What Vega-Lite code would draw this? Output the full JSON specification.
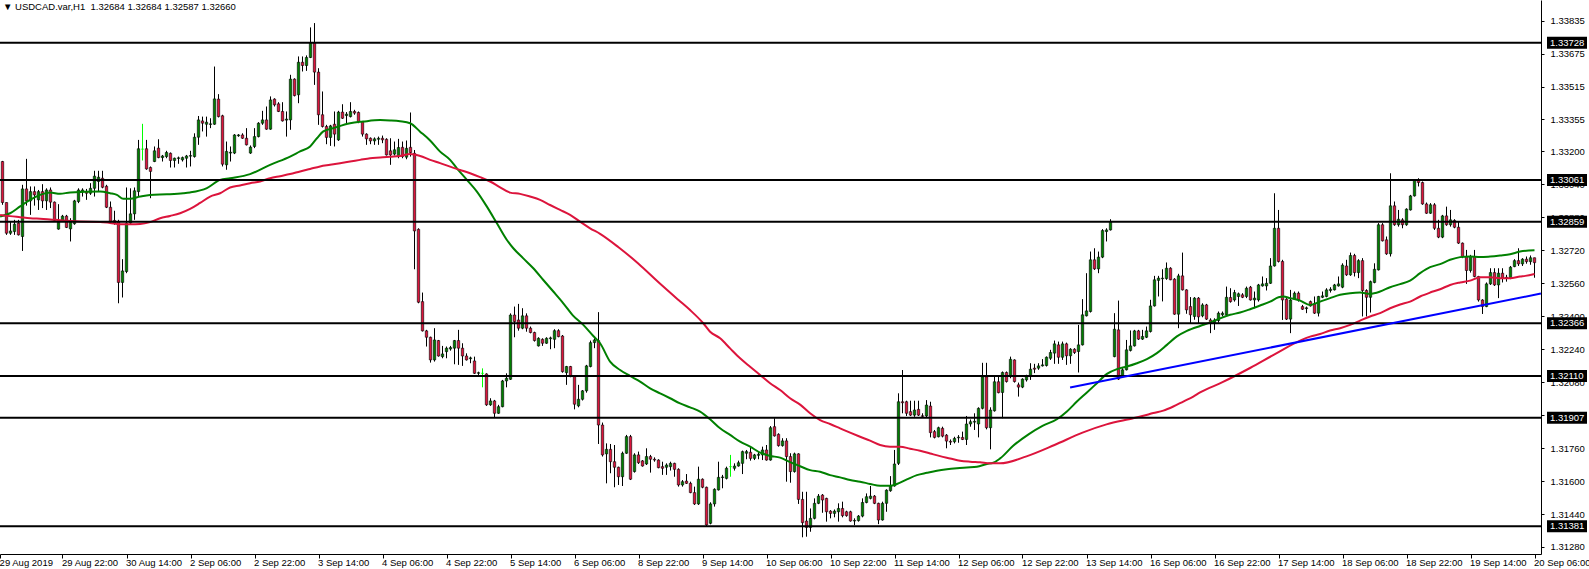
{
"$schema":"https://vega.github.io/schema/vega-lite/v6.json",
"width":1541,"height":554,"autosize":"none","padding":{"left":0,"top":0,"right":48,"bottom":15},"background":"white",
"config":{"view":{"stroke":null},"font":"Liberation Sans","scale":{"continuousPadding":0},"axis":{"labelFont":"Liberation Sans","labelFontSize":9.5,"labelColor":"#000000","tickColor":"#000000","domainColor":"#000000","grid":false,"labelOverlap":false,"labelFlush":false,"labelBound":false}},
"title":{"text":"▼ USDCAD.var,H1\u00a0\u00a01.32684 1.32684 1.32587 1.32660","anchor":"start","frame":"group","font":"Liberation Sans","fontSize":9.5,"fontWeight":"normal","color":"#000000","offset":0,"dy":11,"dx":3},
"datasets":{
"bars":[
{"i":0,"o":1.33151,"h":1.33154,"l":1.32941,"c":1.32952},
{"i":1,"o":1.32952,"h":1.32952,"l":1.32795,"c":1.32803},
{"i":2,"o":1.32803,"h":1.3286,"l":1.32795,"c":1.32814},
{"i":3,"o":1.32811,"h":1.32868,"l":1.32795,"c":1.32847},
{"i":4,"o":1.32852,"h":1.32868,"l":1.32792,"c":1.32795},
{"i":5,"o":1.32787,"h":1.33038,"l":1.32717,"c":1.33018},
{"i":6,"o":1.33018,"h":1.33164,"l":1.32937,"c":1.3296},
{"i":7,"o":1.3296,"h":1.3303,"l":1.32892,"c":1.33005},
{"i":8,"o":1.33005,"h":1.3303,"l":1.32937,"c":1.32989},
{"i":9,"o":1.32965,"h":1.33013,"l":1.32916,"c":1.33005},
{"i":10,"o":1.33005,"h":1.33041,"l":1.32925,"c":1.3296},
{"i":11,"o":1.3296,"h":1.33021,"l":1.32916,"c":1.33013},
{"i":12,"o":1.33013,"h":1.33025,"l":1.32925,"c":1.32954},
{"i":13,"o":1.32954,"h":1.32957,"l":1.32862,"c":1.32865},
{"i":14,"o":1.32823,"h":1.32944,"l":1.3282,"c":1.32857},
{"i":15,"o":1.32865,"h":1.32892,"l":1.3286,"c":1.32886},
{"i":16,"o":1.32886,"h":1.32892,"l":1.32828,"c":1.32831},
{"i":17,"o":1.32824,"h":1.32876,"l":1.32763,"c":1.32865},
{"i":18,"o":1.32849,"h":1.32965,"l":1.32844,"c":1.3296},
{"i":19,"o":1.32957,"h":1.33021,"l":1.32949,"c":1.33013},
{"i":20,"o":1.33005,"h":1.33021,"l":1.32981,"c":1.33013},
{"i":21,"o":1.33005,"h":1.33018,"l":1.32965,"c":1.32997},
{"i":22,"o":1.32997,"h":1.33046,"l":1.32989,"c":1.33021},
{"i":23,"o":1.33021,"h":1.33106,"l":1.32981,"c":1.3308},
{"i":24,"o":1.33054,"h":1.33106,"l":1.33005,"c":1.33075},
{"i":25,"o":1.3307,"h":1.33106,"l":1.33021,"c":1.33026},
{"i":26,"o":1.33031,"h":1.33038,"l":1.32925,"c":1.32929},
{"i":27,"o":1.32929,"h":1.32957,"l":1.32852,"c":1.3286},
{"i":28,"o":1.32865,"h":1.32912,"l":1.32844,"c":1.32852},
{"i":29,"o":1.3286,"h":1.32868,"l":1.32463,"c":1.32564},
{"i":30,"o":1.32564,"h":1.32677,"l":1.32491,"c":1.3262},
{"i":31,"o":1.32617,"h":1.33025,"l":1.32609,"c":1.32852},
{"i":32,"o":1.32852,"h":1.33021,"l":1.32847,"c":1.32897},
{"i":33,"o":1.32897,"h":1.33025,"l":1.32868,"c":1.33009},
{"i":34,"o":1.33005,"h":1.33256,"l":1.32981,"c":1.33213},
{"i":35,"o":1.33211,"h":1.33334,"l":1.33156,"c":1.33211},
{"i":36,"o":1.33213,"h":1.33256,"l":1.33111,"c":1.33115},
{"i":37,"o":1.33122,"h":1.33127,"l":1.32973,"c":1.33103},
{"i":38,"o":1.33151,"h":1.33224,"l":1.33148,"c":1.33203},
{"i":39,"o":1.33216,"h":1.33259,"l":1.33167,"c":1.3317},
{"i":40,"o":1.3317,"h":1.33183,"l":1.33151,"c":1.33178},
{"i":41,"o":1.33175,"h":1.33203,"l":1.33167,"c":1.33195},
{"i":42,"o":1.33191,"h":1.33195,"l":1.33122,"c":1.33156},
{"i":43,"o":1.33156,"h":1.3317,"l":1.33122,"c":1.33167},
{"i":44,"o":1.33166,"h":1.33175,"l":1.3314,"c":1.33169},
{"i":45,"o":1.33159,"h":1.33175,"l":1.33151,"c":1.3317},
{"i":46,"o":1.33167,"h":1.33183,"l":1.33122,"c":1.33178},
{"i":47,"o":1.33177,"h":1.33203,"l":1.33127,"c":1.3318},
{"i":48,"o":1.33175,"h":1.33288,"l":1.3317,"c":1.33269},
{"i":49,"o":1.33269,"h":1.33372,"l":1.33232,"c":1.33353},
{"i":50,"o":1.33348,"h":1.33369,"l":1.33297,"c":1.33337},
{"i":51,"o":1.33332,"h":1.33369,"l":1.33272,"c":1.33342},
{"i":52,"o":1.33331,"h":1.33361,"l":1.33313,"c":1.33334},
{"i":53,"o":1.33332,"h":1.33612,"l":1.33329,"c":1.33455},
{"i":54,"o":1.33454,"h":1.33478,"l":1.33365,"c":1.33369},
{"i":55,"o":1.33373,"h":1.33378,"l":1.33127,"c":1.33138},
{"i":56,"o":1.33135,"h":1.33248,"l":1.33111,"c":1.332},
{"i":57,"o":1.33192,"h":1.33224,"l":1.33151,"c":1.33196},
{"i":58,"o":1.33192,"h":1.33284,"l":1.33187,"c":1.3328},
{"i":59,"o":1.33276,"h":1.33284,"l":1.33271,"c":1.3328},
{"i":60,"o":1.3328,"h":1.33288,"l":1.33261,"c":1.33264},
{"i":61,"o":1.33264,"h":1.33313,"l":1.33229,"c":1.33232},
{"i":62,"o":1.33192,"h":1.33229,"l":1.33188,"c":1.33221},
{"i":63,"o":1.33224,"h":1.33313,"l":1.33216,"c":1.33272},
{"i":64,"o":1.33272,"h":1.33342,"l":1.33268,"c":1.33337},
{"i":65,"o":1.33337,"h":1.33397,"l":1.33329,"c":1.33353},
{"i":66,"o":1.33353,"h":1.33418,"l":1.33305,"c":1.33308},
{"i":67,"o":1.33308,"h":1.33467,"l":1.33305,"c":1.3345},
{"i":68,"o":1.33454,"h":1.33458,"l":1.33418,"c":1.33426},
{"i":69,"o":1.33431,"h":1.33439,"l":1.33391,"c":1.33394},
{"i":70,"o":1.33394,"h":1.33439,"l":1.33345,"c":1.33348},
{"i":71,"o":1.33352,"h":1.33394,"l":1.33272,"c":1.33357},
{"i":72,"o":1.33353,"h":1.33572,"l":1.33305,"c":1.33551},
{"i":73,"o":1.33551,"h":1.33555,"l":1.33467,"c":1.33471},
{"i":74,"o":1.33475,"h":1.33661,"l":1.33434,"c":1.33633},
{"i":75,"o":1.33633,"h":1.33661,"l":1.33588,"c":1.33617},
{"i":76,"o":1.33617,"h":1.33666,"l":1.33591,"c":1.33656},
{"i":77,"o":1.33656,"h":1.33802,"l":1.33653,"c":1.33727},
{"i":78,"o":1.33727,"h":1.33823,"l":1.33523,"c":1.33585},
{"i":79,"o":1.33585,"h":1.33604,"l":1.33329,"c":1.33378},
{"i":80,"o":1.33378,"h":1.33491,"l":1.33316,"c":1.33321},
{"i":81,"o":1.33321,"h":1.33329,"l":1.33235,"c":1.33268},
{"i":82,"o":1.33268,"h":1.33329,"l":1.33227,"c":1.33324},
{"i":83,"o":1.33332,"h":1.33394,"l":1.33224,"c":1.33284},
{"i":84,"o":1.33256,"h":1.33397,"l":1.33251,"c":1.33391},
{"i":85,"o":1.33391,"h":1.33429,"l":1.33358,"c":1.33361},
{"i":86,"o":1.33374,"h":1.33391,"l":1.33329,"c":1.33381},
{"i":87,"o":1.33369,"h":1.33439,"l":1.33365,"c":1.33394},
{"i":88,"o":1.33394,"h":1.33402,"l":1.33378,"c":1.33386},
{"i":89,"o":1.33389,"h":1.33394,"l":1.33337,"c":1.33345},
{"i":90,"o":1.33345,"h":1.33348,"l":1.33272,"c":1.33284},
{"i":91,"o":1.33284,"h":1.33288,"l":1.33232,"c":1.33261},
{"i":92,"o":1.33264,"h":1.33268,"l":1.33235,"c":1.33251},
{"i":93,"o":1.33251,"h":1.33268,"l":1.33232,"c":1.33261},
{"i":94,"o":1.33259,"h":1.33272,"l":1.33232,"c":1.33264},
{"i":95,"o":1.33264,"h":1.33277,"l":1.3324,"c":1.33256},
{"i":96,"o":1.33259,"h":1.33264,"l":1.3318,"c":1.33183},
{"i":97,"o":1.33203,"h":1.33264,"l":1.33135,"c":1.33183},
{"i":98,"o":1.33187,"h":1.33248,"l":1.3318,"c":1.33208},
{"i":99,"o":1.33175,"h":1.33261,"l":1.33167,"c":1.33219},
{"i":100,"o":1.3322,"h":1.33248,"l":1.33167,"c":1.33175},
{"i":101,"o":1.33172,"h":1.33253,"l":1.33162,"c":1.33215},
{"i":102,"o":1.3322,"h":1.33389,"l":1.33175,"c":1.33194},
{"i":103,"o":1.33191,"h":1.33207,"l":1.32628,"c":1.32814},
{"i":104,"o":1.32822,"h":1.32827,"l":1.32463,"c":1.32468},
{"i":105,"o":1.32471,"h":1.32515,"l":1.32326,"c":1.32329},
{"i":106,"o":1.32329,"h":1.32334,"l":1.32253,"c":1.32298},
{"i":107,"o":1.32298,"h":1.32301,"l":1.32175,"c":1.32188},
{"i":108,"o":1.32188,"h":1.32342,"l":1.3218,"c":1.32285},
{"i":109,"o":1.32282,"h":1.32285,"l":1.32204,"c":1.32207},
{"i":110,"o":1.32204,"h":1.32256,"l":1.32196,"c":1.32217},
{"i":111,"o":1.32228,"h":1.32253,"l":1.32196,"c":1.32245},
{"i":112,"o":1.32241,"h":1.32256,"l":1.32233,"c":1.32248},
{"i":113,"o":1.32245,"h":1.32285,"l":1.32167,"c":1.32282},
{"i":114,"o":1.32282,"h":1.32334,"l":1.32164,"c":1.32245},
{"i":115,"o":1.32245,"h":1.32269,"l":1.32159,"c":1.32207},
{"i":116,"o":1.32207,"h":1.3222,"l":1.32185,"c":1.32188},
{"i":117,"o":1.32194,"h":1.32204,"l":1.32172,"c":1.32198},
{"i":118,"o":1.32183,"h":1.32204,"l":1.3212,"c":1.32123},
{"i":119,"o":1.32123,"h":1.32131,"l":1.32115,"c":1.32126},
{"i":120,"o":1.32123,"h":1.32147,"l":1.32055,"c":1.32123},
{"i":121,"o":1.3212,"h":1.32123,"l":1.31965,"c":1.3197},
{"i":122,"o":1.3197,"h":1.32002,"l":1.31965,"c":1.31989},
{"i":123,"o":1.31989,"h":1.31994,"l":1.3191,"c":1.31929},
{"i":124,"o":1.31929,"h":1.3197,"l":1.31926,"c":1.31961},
{"i":125,"o":1.31961,"h":1.32091,"l":1.31958,"c":1.32086},
{"i":126,"o":1.32086,"h":1.32123,"l":1.32055,"c":1.32099},
{"i":127,"o":1.32094,"h":1.32414,"l":1.32091,"c":1.32406},
{"i":128,"o":1.32406,"h":1.32447,"l":1.32298,"c":1.32374},
{"i":129,"o":1.32382,"h":1.3246,"l":1.3233,"c":1.32342},
{"i":130,"o":1.32342,"h":1.32439,"l":1.32337,"c":1.32402},
{"i":131,"o":1.32402,"h":1.32414,"l":1.32325,"c":1.32342},
{"i":132,"o":1.32342,"h":1.3235,"l":1.32317,"c":1.32321},
{"i":133,"o":1.32321,"h":1.32325,"l":1.32277,"c":1.32282},
{"i":134,"o":1.32256,"h":1.32298,"l":1.32253,"c":1.32293},
{"i":135,"o":1.32288,"h":1.32293,"l":1.32256,"c":1.32269},
{"i":136,"o":1.32269,"h":1.32298,"l":1.32266,"c":1.32293},
{"i":137,"o":1.32291,"h":1.32301,"l":1.3224,"c":1.32295},
{"i":138,"o":1.32288,"h":1.32337,"l":1.32245,"c":1.3233},
{"i":139,"o":1.3233,"h":1.32337,"l":1.32298,"c":1.32301},
{"i":140,"o":1.32304,"h":1.32309,"l":1.32126,"c":1.32131},
{"i":141,"o":1.32126,"h":1.32159,"l":1.32067,"c":1.32156},
{"i":142,"o":1.32156,"h":1.32159,"l":1.32104,"c":1.32107},
{"i":143,"o":1.32107,"h":1.3211,"l":1.31948,"c":1.31973},
{"i":144,"o":1.31965,"h":1.32067,"l":1.31958,"c":1.31997},
{"i":145,"o":1.31997,"h":1.32042,"l":1.31991,"c":1.32038},
{"i":146,"o":1.32038,"h":1.32164,"l":1.32029,"c":1.32159},
{"i":147,"o":1.32156,"h":1.32282,"l":1.32152,"c":1.32272},
{"i":148,"o":1.32272,"h":1.32293,"l":1.32245,"c":1.32285},
{"i":149,"o":1.32282,"h":1.3242,"l":1.3178,"c":1.31872},
{"i":150,"o":1.31872,"h":1.31884,"l":1.31719,"c":1.31727},
{"i":151,"o":1.31732,"h":1.31783,"l":1.31589,"c":1.31754},
{"i":152,"o":1.31754,"h":1.3178,"l":1.31638,"c":1.31694},
{"i":153,"o":1.31694,"h":1.31775,"l":1.3157,"c":1.31667},
{"i":154,"o":1.31667,"h":1.3167,"l":1.31581,"c":1.31621},
{"i":155,"o":1.31621,"h":1.31743,"l":1.31576,"c":1.31735},
{"i":156,"o":1.31735,"h":1.31824,"l":1.31732,"c":1.31816},
{"i":157,"o":1.31816,"h":1.31824,"l":1.31605,"c":1.31609},
{"i":158,"o":1.31646,"h":1.31735,"l":1.31641,"c":1.31727},
{"i":159,"o":1.31727,"h":1.31743,"l":1.31683,"c":1.31689},
{"i":160,"o":1.31698,"h":1.31702,"l":1.3167,"c":1.31673},
{"i":161,"o":1.31683,"h":1.31759,"l":1.31678,"c":1.31719},
{"i":162,"o":1.31719,"h":1.31727,"l":1.31641,"c":1.31706},
{"i":163,"o":1.31706,"h":1.31715,"l":1.31694,"c":1.31702},
{"i":164,"o":1.31702,"h":1.31706,"l":1.31662,"c":1.31665},
{"i":165,"o":1.3167,"h":1.31694,"l":1.3163,"c":1.31662},
{"i":166,"o":1.31667,"h":1.31686,"l":1.3163,"c":1.31678},
{"i":167,"o":1.3167,"h":1.31694,"l":1.31651,"c":1.31686},
{"i":168,"o":1.31686,"h":1.31689,"l":1.31621,"c":1.31657},
{"i":169,"o":1.31657,"h":1.31662,"l":1.31573,"c":1.31581},
{"i":170,"o":1.31581,"h":1.31605,"l":1.31573,"c":1.31597},
{"i":171,"o":1.316,"h":1.31634,"l":1.31586,"c":1.31589},
{"i":172,"o":1.31589,"h":1.31597,"l":1.31541,"c":1.31544},
{"i":173,"o":1.31544,"h":1.31573,"l":1.31484,"c":1.31489},
{"i":174,"o":1.31489,"h":1.3167,"l":1.31484,"c":1.31609},
{"i":175,"o":1.31609,"h":1.31613,"l":1.31565,"c":1.3157},
{"i":176,"o":1.3157,"h":1.31573,"l":1.31379,"c":1.31387},
{"i":177,"o":1.31395,"h":1.31497,"l":1.3139,"c":1.31489},
{"i":178,"o":1.31489,"h":1.31565,"l":1.31476,"c":1.3156},
{"i":179,"o":1.31557,"h":1.31694,"l":1.31554,"c":1.31618},
{"i":180,"o":1.31617,"h":1.3163,"l":1.31565,"c":1.3162},
{"i":181,"o":1.31613,"h":1.3167,"l":1.31608,"c":1.31662},
{"i":182,"o":1.3167,"h":1.31727,"l":1.31621,"c":1.3167},
{"i":183,"o":1.31662,"h":1.31686,"l":1.31651,"c":1.31673},
{"i":184,"o":1.31673,"h":1.31699,"l":1.3167,"c":1.31689},
{"i":185,"o":1.31686,"h":1.31748,"l":1.31634,"c":1.31743},
{"i":186,"o":1.31735,"h":1.31751,"l":1.31706,"c":1.31743},
{"i":187,"o":1.3174,"h":1.31767,"l":1.31699,"c":1.3171},
{"i":188,"o":1.3171,"h":1.31732,"l":1.31702,"c":1.31727},
{"i":189,"o":1.31725,"h":1.31743,"l":1.31706,"c":1.3173},
{"i":190,"o":1.31727,"h":1.31767,"l":1.31702,"c":1.31751},
{"i":191,"o":1.31751,"h":1.31775,"l":1.31699,"c":1.31702},
{"i":192,"o":1.31702,"h":1.31867,"l":1.31699,"c":1.31859},
{"i":193,"o":1.31864,"h":1.31905,"l":1.31816,"c":1.31819},
{"i":194,"o":1.31827,"h":1.31832,"l":1.31767,"c":1.31772},
{"i":195,"o":1.31772,"h":1.31808,"l":1.31767,"c":1.31795},
{"i":196,"o":1.31795,"h":1.31808,"l":1.31597,"c":1.31719},
{"i":197,"o":1.31719,"h":1.31735,"l":1.31592,"c":1.31646},
{"i":198,"o":1.31646,"h":1.31738,"l":1.31641,"c":1.31732},
{"i":199,"o":1.31732,"h":1.31735,"l":1.31489,"c":1.31511},
{"i":200,"o":1.31511,"h":1.31548,"l":1.31327,"c":1.31398},
{"i":201,"o":1.31406,"h":1.31548,"l":1.3133,"c":1.31375},
{"i":202,"o":1.31375,"h":1.31467,"l":1.31354,"c":1.31419},
{"i":203,"o":1.31419,"h":1.31516,"l":1.31414,"c":1.31492},
{"i":204,"o":1.31492,"h":1.31537,"l":1.31488,"c":1.31527},
{"i":205,"o":1.31532,"h":1.31537,"l":1.31446,"c":1.31508},
{"i":206,"o":1.31516,"h":1.31519,"l":1.31403,"c":1.31451},
{"i":207,"o":1.31454,"h":1.31459,"l":1.31419,"c":1.31443},
{"i":208,"o":1.31443,"h":1.31462,"l":1.31424,"c":1.31454},
{"i":209,"o":1.31451,"h":1.31492,"l":1.31403,"c":1.31467},
{"i":210,"o":1.31467,"h":1.315,"l":1.31424,"c":1.31432},
{"i":211,"o":1.31451,"h":1.31456,"l":1.31427,"c":1.31432},
{"i":212,"o":1.31451,"h":1.31456,"l":1.31403,"c":1.31406},
{"i":213,"o":1.31406,"h":1.31419,"l":1.31386,"c":1.31409},
{"i":214,"o":1.31408,"h":1.31435,"l":1.31403,"c":1.3143},
{"i":215,"o":1.3143,"h":1.31516,"l":1.31424,"c":1.31496},
{"i":216,"o":1.31496,"h":1.3154,"l":1.31492,"c":1.31524},
{"i":217,"o":1.31516,"h":1.31576,"l":1.31511,"c":1.31527},
{"i":218,"o":1.31527,"h":1.31532,"l":1.31488,"c":1.31492},
{"i":219,"o":1.31492,"h":1.31495,"l":1.31391,"c":1.31411},
{"i":220,"o":1.31411,"h":1.315,"l":1.31408,"c":1.31492},
{"i":221,"o":1.31492,"h":1.3156,"l":1.31451,"c":1.31556},
{"i":222,"o":1.31553,"h":1.31624,"l":1.31548,"c":1.31576},
{"i":223,"o":1.31576,"h":1.31751,"l":1.31573,"c":1.31683},
{"i":224,"o":1.31686,"h":1.32026,"l":1.31678,"c":1.31985},
{"i":225,"o":1.31985,"h":1.32139,"l":1.31929,"c":1.3198},
{"i":226,"o":1.31985,"h":1.3199,"l":1.31916,"c":1.31929},
{"i":227,"o":1.31937,"h":1.3199,"l":1.31916,"c":1.3192},
{"i":228,"o":1.3192,"h":1.3199,"l":1.31912,"c":1.31945},
{"i":229,"o":1.31948,"h":1.3199,"l":1.31916,"c":1.3192},
{"i":230,"o":1.31917,"h":1.31929,"l":1.31909,"c":1.31914},
{"i":231,"o":1.31916,"h":1.31993,"l":1.31909,"c":1.31969},
{"i":232,"o":1.31964,"h":1.31985,"l":1.31812,"c":1.31835},
{"i":233,"o":1.3184,"h":1.31848,"l":1.31807,"c":1.31812},
{"i":234,"o":1.31815,"h":1.31864,"l":1.31812,"c":1.31859},
{"i":235,"o":1.31856,"h":1.31864,"l":1.31812,"c":1.31818},
{"i":236,"o":1.31823,"h":1.31828,"l":1.31759,"c":1.31794},
{"i":237,"o":1.31793,"h":1.31802,"l":1.31775,"c":1.31789},
{"i":238,"o":1.31791,"h":1.31815,"l":1.31783,"c":1.31807},
{"i":239,"o":1.3181,"h":1.31823,"l":1.31786,"c":1.31813},
{"i":240,"o":1.31812,"h":1.3184,"l":1.31799,"c":1.31802},
{"i":241,"o":1.31802,"h":1.31916,"l":1.31775,"c":1.31877},
{"i":242,"o":1.31877,"h":1.31899,"l":1.31864,"c":1.31888},
{"i":243,"o":1.31886,"h":1.31929,"l":1.31848,"c":1.3189},
{"i":244,"o":1.31877,"h":1.31958,"l":1.31812,"c":1.31953},
{"i":245,"o":1.31953,"h":1.32174,"l":1.31948,"c":1.32106},
{"i":246,"o":1.32106,"h":1.32174,"l":1.31851,"c":1.31859},
{"i":247,"o":1.31859,"h":1.31958,"l":1.31754,"c":1.31945},
{"i":248,"o":1.31941,"h":1.32106,"l":1.31937,"c":1.32082},
{"i":249,"o":1.32082,"h":1.32106,"l":1.32026,"c":1.32029},
{"i":250,"o":1.3203,"h":1.32132,"l":1.31905,"c":1.32127},
{"i":251,"o":1.32127,"h":1.32132,"l":1.32078,"c":1.32083},
{"i":252,"o":1.32107,"h":1.32204,"l":1.32099,"c":1.32191},
{"i":253,"o":1.32188,"h":1.32191,"l":1.32078,"c":1.32083},
{"i":254,"o":1.32067,"h":1.32078,"l":1.3201,"c":1.32056},
{"i":255,"o":1.32056,"h":1.32099,"l":1.32051,"c":1.32095},
{"i":256,"o":1.32091,"h":1.32116,"l":1.32083,"c":1.32107},
{"i":257,"o":1.32107,"h":1.32172,"l":1.32091,"c":1.32143},
{"i":258,"o":1.32148,"h":1.32169,"l":1.32124,"c":1.32143},
{"i":259,"o":1.32148,"h":1.32172,"l":1.3214,"c":1.32159},
{"i":260,"o":1.32159,"h":1.32192,"l":1.32156,"c":1.32164},
{"i":261,"o":1.32161,"h":1.32205,"l":1.32156,"c":1.32201},
{"i":262,"o":1.32196,"h":1.32237,"l":1.32188,"c":1.32224},
{"i":263,"o":1.32221,"h":1.32282,"l":1.32169,"c":1.32266},
{"i":264,"o":1.32261,"h":1.32277,"l":1.32169,"c":1.32201},
{"i":265,"o":1.32201,"h":1.32277,"l":1.32188,"c":1.32266},
{"i":266,"o":1.32266,"h":1.32272,"l":1.32164,"c":1.32208},
{"i":267,"o":1.32208,"h":1.32245,"l":1.32169,"c":1.3224},
{"i":268,"o":1.3224,"h":1.32245,"l":1.32217,"c":1.32224},
{"i":269,"o":1.32229,"h":1.32358,"l":1.32127,"c":1.32261},
{"i":270,"o":1.32261,"h":1.32483,"l":1.32258,"c":1.32407},
{"i":271,"o":1.32402,"h":1.32609,"l":1.32399,"c":1.32426},
{"i":272,"o":1.32423,"h":1.32714,"l":1.32418,"c":1.32674},
{"i":273,"o":1.32674,"h":1.3273,"l":1.32625,"c":1.3263},
{"i":274,"o":1.3263,"h":1.32714,"l":1.32609,"c":1.32687},
{"i":275,"o":1.32687,"h":1.32823,"l":1.32682,"c":1.32816},
{"i":276,"o":1.32811,"h":1.32827,"l":1.32763,"c":1.32819},
{"i":277,"o":1.32819,"h":1.32871,"l":1.32816,"c":1.3286},
{"i":278,"o":1.32204,"h":1.32415,"l":1.32201,"c":1.32337},
{"i":279,"o":1.32334,"h":1.32476,"l":1.32091,"c":1.32095},
{"i":280,"o":1.32111,"h":1.32148,"l":1.32107,"c":1.3214},
{"i":281,"o":1.3214,"h":1.32285,"l":1.32137,"c":1.32237},
{"i":282,"o":1.32234,"h":1.32331,"l":1.32229,"c":1.32256},
{"i":283,"o":1.32256,"h":1.32334,"l":1.32253,"c":1.32329},
{"i":284,"o":1.32329,"h":1.32334,"l":1.32285,"c":1.32289},
{"i":285,"o":1.32289,"h":1.32334,"l":1.32285,"c":1.32302},
{"i":286,"o":1.32298,"h":1.3235,"l":1.32294,"c":1.32329},
{"i":287,"o":1.32326,"h":1.3248,"l":1.32321,"c":1.3245},
{"i":288,"o":1.3245,"h":1.32596,"l":1.32447,"c":1.32577},
{"i":289,"o":1.32574,"h":1.32596,"l":1.32496,"c":1.32585},
{"i":290,"o":1.32582,"h":1.32628,"l":1.32472,"c":1.32585},
{"i":291,"o":1.32583,"h":1.32661,"l":1.32577,"c":1.32633},
{"i":292,"o":1.32633,"h":1.32638,"l":1.32575,"c":1.32577},
{"i":293,"o":1.3258,"h":1.32585,"l":1.32407,"c":1.3241},
{"i":294,"o":1.3241,"h":1.32606,"l":1.32342,"c":1.32596},
{"i":295,"o":1.32596,"h":1.32709,"l":1.32525,"c":1.32528},
{"i":296,"o":1.32528,"h":1.32531,"l":1.32412,"c":1.32431},
{"i":297,"o":1.32447,"h":1.32493,"l":1.32363,"c":1.32407},
{"i":298,"o":1.32399,"h":1.32493,"l":1.32383,"c":1.32488},
{"i":299,"o":1.32488,"h":1.32493,"l":1.32366,"c":1.32397},
{"i":300,"o":1.32402,"h":1.32463,"l":1.32395,"c":1.32455},
{"i":301,"o":1.32455,"h":1.3246,"l":1.32382,"c":1.32386},
{"i":302,"o":1.32382,"h":1.3239,"l":1.32318,"c":1.32369},
{"i":303,"o":1.32369,"h":1.3239,"l":1.32334,"c":1.32382},
{"i":304,"o":1.32379,"h":1.32423,"l":1.32369,"c":1.32415},
{"i":305,"o":1.32407,"h":1.32423,"l":1.32399,"c":1.32415},
{"i":306,"o":1.32407,"h":1.32544,"l":1.32402,"c":1.32492},
{"i":307,"o":1.32491,"h":1.32536,"l":1.32466,"c":1.32471},
{"i":308,"o":1.32479,"h":1.32528,"l":1.32471,"c":1.32515},
{"i":309,"o":1.32496,"h":1.32515,"l":1.3245,"c":1.32509},
{"i":310,"o":1.32504,"h":1.32512,"l":1.32488,"c":1.32492},
{"i":311,"o":1.32496,"h":1.32544,"l":1.32488,"c":1.32536},
{"i":312,"o":1.32541,"h":1.32547,"l":1.32476,"c":1.32479},
{"i":313,"o":1.32479,"h":1.3252,"l":1.32439,"c":1.32488},
{"i":314,"o":1.32479,"h":1.32557,"l":1.32471,"c":1.32552},
{"i":315,"o":1.32547,"h":1.32593,"l":1.32544,"c":1.32557},
{"i":316,"o":1.32547,"h":1.32585,"l":1.32525,"c":1.3256},
{"i":317,"o":1.3256,"h":1.32682,"l":1.32557,"c":1.32644},
{"i":318,"o":1.32644,"h":1.32997,"l":1.32641,"c":1.32827},
{"i":319,"o":1.32827,"h":1.32916,"l":1.32661,"c":1.32666},
{"i":320,"o":1.32666,"h":1.32674,"l":1.32382,"c":1.32479},
{"i":321,"o":1.32483,"h":1.32488,"l":1.32382,"c":1.32386},
{"i":322,"o":1.32386,"h":1.32528,"l":1.32318,"c":1.32479},
{"i":323,"o":1.32483,"h":1.3252,"l":1.32479,"c":1.32512},
{"i":324,"o":1.32512,"h":1.3252,"l":1.32471,"c":1.32479},
{"i":325,"o":1.32447,"h":1.32455,"l":1.32431,"c":1.32434},
{"i":326,"o":1.32437,"h":1.32447,"l":1.32415,"c":1.32441},
{"i":327,"o":1.32471,"h":1.32476,"l":1.32447,"c":1.3245},
{"i":328,"o":1.3246,"h":1.32496,"l":1.32411,"c":1.32415},
{"i":329,"o":1.32415,"h":1.32499,"l":1.32399,"c":1.32496},
{"i":330,"o":1.32492,"h":1.3252,"l":1.32488,"c":1.32499},
{"i":331,"o":1.32496,"h":1.32536,"l":1.32492,"c":1.32528},
{"i":332,"o":1.32525,"h":1.32541,"l":1.32515,"c":1.32531},
{"i":333,"o":1.32528,"h":1.32557,"l":1.32525,"c":1.32552},
{"i":334,"o":1.32547,"h":1.32593,"l":1.32544,"c":1.32557},
{"i":335,"o":1.32541,"h":1.32657,"l":1.32536,"c":1.32648},
{"i":336,"o":1.32644,"h":1.32674,"l":1.32596,"c":1.32601},
{"i":337,"o":1.32601,"h":1.32709,"l":1.32596,"c":1.32695},
{"i":338,"o":1.32695,"h":1.32703,"l":1.32593,"c":1.32612},
{"i":339,"o":1.32612,"h":1.32677,"l":1.32585,"c":1.3267},
{"i":340,"o":1.3267,"h":1.32682,"l":1.32399,"c":1.32525},
{"i":341,"o":1.32525,"h":1.32531,"l":1.32399,"c":1.32492},
{"i":342,"o":1.32492,"h":1.32573,"l":1.32418,"c":1.32568},
{"i":343,"o":1.32564,"h":1.32657,"l":1.3256,"c":1.32628},
{"i":344,"o":1.32625,"h":1.32852,"l":1.32622,"c":1.32844},
{"i":345,"o":1.32844,"h":1.32852,"l":1.32763,"c":1.32766},
{"i":346,"o":1.32771,"h":1.32787,"l":1.32698,"c":1.32703},
{"i":347,"o":1.32703,"h":1.33094,"l":1.3269,"c":1.32936},
{"i":348,"o":1.32936,"h":1.32957,"l":1.32839,"c":1.32844},
{"i":349,"o":1.32844,"h":1.32916,"l":1.32835,"c":1.32871},
{"i":350,"o":1.32868,"h":1.32876,"l":1.32827,"c":1.32844},
{"i":351,"o":1.32844,"h":1.32924,"l":1.32839,"c":1.3292},
{"i":352,"o":1.32916,"h":1.32989,"l":1.32913,"c":1.32984},
{"i":353,"o":1.32984,"h":1.33065,"l":1.32981,"c":1.33059},
{"i":354,"o":1.33059,"h":1.3307,"l":1.3303,"c":1.33049},
{"i":355,"o":1.33049,"h":1.33054,"l":1.32941,"c":1.32945},
{"i":356,"o":1.32945,"h":1.32952,"l":1.32897,"c":1.329},
{"i":357,"o":1.329,"h":1.32949,"l":1.32897,"c":1.32941},
{"i":358,"o":1.32941,"h":1.32949,"l":1.32819,"c":1.32827},
{"i":359,"o":1.32827,"h":1.32868,"l":1.32779,"c":1.32784},
{"i":360,"o":1.32784,"h":1.32892,"l":1.32779,"c":1.32887},
{"i":361,"o":1.32887,"h":1.32932,"l":1.32839,"c":1.32844},
{"i":362,"o":1.32844,"h":1.32916,"l":1.32835,"c":1.32868},
{"i":363,"o":1.32865,"h":1.32871,"l":1.32827,"c":1.32832},
{"i":364,"o":1.32832,"h":1.3286,"l":1.32751,"c":1.32755},
{"i":365,"o":1.32755,"h":1.32758,"l":1.32682,"c":1.3269},
{"i":366,"o":1.3269,"h":1.32722,"l":1.32557,"c":1.32622},
{"i":367,"o":1.32622,"h":1.32698,"l":1.32612,"c":1.3269},
{"i":368,"o":1.3269,"h":1.32722,"l":1.32589,"c":1.32593},
{"i":369,"o":1.32593,"h":1.32596,"l":1.32471,"c":1.32479},
{"i":370,"o":1.32479,"h":1.32483,"l":1.32411,"c":1.32447},
{"i":371,"o":1.32447,"h":1.32564,"l":1.32444,"c":1.32557},
{"i":372,"o":1.32557,"h":1.32633,"l":1.32552,"c":1.32612},
{"i":373,"o":1.32612,"h":1.32633,"l":1.32547,"c":1.32552},
{"i":374,"o":1.32552,"h":1.32633,"l":1.32488,"c":1.32609},
{"i":375,"o":1.32609,"h":1.32633,"l":1.32564,"c":1.32585},
{"i":376,"o":1.32586,"h":1.32601,"l":1.32568,"c":1.32589},
{"i":377,"o":1.32585,"h":1.32644,"l":1.3258,"c":1.32638},
{"i":378,"o":1.32641,"h":1.32677,"l":1.32638,"c":1.3267},
{"i":379,"o":1.3267,"h":1.3273,"l":1.32644,"c":1.32654},
{"i":380,"o":1.32654,"h":1.32682,"l":1.32644,"c":1.32677},
{"i":381,"o":1.32677,"h":1.3269,"l":1.32655,"c":1.32665},
{"i":382,"o":1.32665,"h":1.32695,"l":1.3265,"c":1.32684},
{"i":383,"o":1.32684,"h":1.32684,"l":1.32587,"c":1.3266}
],
"ma":[
{"s":"g","i":-0.6,"p":1.32884},{"s":"g","i":1.9,"p":1.329},{"s":"g","i":4.4,"p":1.32933},{"s":"g","i":6.9,"p":1.32965},{"s":"g","i":9.4,"p":1.32989},{"s":"g","i":11.9,"p":1.33001},{"s":"g","i":14.4,"p":1.32994},{"s":"g","i":16.9,"p":1.33001},{"s":"g","i":24.4,"p":1.33005},{"s":"g","i":26.9,"p":1.32997},{"s":"g","i":28.6,"p":1.32989},{"s":"g","i":30.2,"p":1.3297},{"s":"g","i":31.9,"p":1.3297},{"s":"g","i":34.4,"p":1.32981},{"s":"g","i":36.9,"p":1.32989},{"s":"g","i":41.1,"p":1.32992},{"s":"g","i":45.2,"p":1.32997},{"s":"g","i":46.9,"p":1.33001},{"s":"g","i":51.1,"p":1.33022},{"s":"g","i":54.4,"p":1.33062},{"s":"g","i":56.9,"p":1.3307},{"s":"g","i":61.9,"p":1.3309},{"s":"g","i":66.9,"p":1.33135},{"s":"g","i":71.9,"p":1.33175},{"s":"g","i":74.4,"p":1.332},{"s":"g","i":76.9,"p":1.33224},{"s":"g","i":78.6,"p":1.33264},{"s":"g","i":80.2,"p":1.33297},{"s":"g","i":82.7,"p":1.33313},{"s":"g","i":86.9,"p":1.33337},{"s":"g","i":90.2,"p":1.33345},{"s":"g","i":94.4,"p":1.33352},{"s":"g","i":96.9,"p":1.3335},{"s":"g","i":99.4,"p":1.33346},{"s":"g","i":101.9,"p":1.33337},{"s":"g","i":104.4,"p":1.33296},{"s":"g","i":106.9,"p":1.33253},{"s":"g","i":109.4,"p":1.33199},{"s":"g","i":111.9,"p":1.33159},{"s":"g","i":113.6,"p":1.33118},{"s":"g","i":116.1,"p":1.33062},{"s":"g","i":118.6,"p":1.33005},{"s":"g","i":121.1,"p":1.32932},{"s":"g","i":123.6,"p":1.32851},{"s":"g","i":126.1,"p":1.3277},{"s":"g","i":127.7,"p":1.3273},{"s":"g","i":130.2,"p":1.32681},{"s":"g","i":132.7,"p":1.32633},{"s":"g","i":135.2,"p":1.32576},{"s":"g","i":137.7,"p":1.3252},{"s":"g","i":140.2,"p":1.32463},{"s":"g","i":142.7,"p":1.32402},{"s":"g","i":145.2,"p":1.32358},{"s":"g","i":147.7,"p":1.32304},{"s":"g","i":149.4,"p":1.32269},{"s":"g","i":151.9,"p":1.3218},{"s":"g","i":154.4,"p":1.32139},{"s":"g","i":156.9,"p":1.3211},{"s":"g","i":159.4,"p":1.32083},{"s":"g","i":161.9,"p":1.3205},{"s":"g","i":164.4,"p":1.32026},{"s":"g","i":166.9,"p":1.32002},{"s":"g","i":169.4,"p":1.31977},{"s":"g","i":171.9,"p":1.31958},{"s":"g","i":174.4,"p":1.31937},{"s":"g","i":176.9,"p":1.319},{"s":"g","i":179.4,"p":1.31856},{"s":"g","i":181.9,"p":1.31824},{"s":"g","i":184.4,"p":1.31791},{"s":"g","i":186.9,"p":1.31767},{"s":"g","i":189.4,"p":1.31738},{"s":"g","i":191.9,"p":1.31722},{"s":"g","i":194.4,"p":1.31714},{"s":"g","i":196.9,"p":1.31692},{"s":"g","i":199.4,"p":1.31672},{"s":"g","i":201.9,"p":1.31653},{"s":"g","i":204.4,"p":1.31645},{"s":"g","i":206.9,"p":1.31629},{"s":"g","i":209.4,"p":1.31618},{"s":"g","i":211.9,"p":1.31605},{"s":"g","i":214.4,"p":1.31597},{"s":"g","i":216.9,"p":1.31586},{"s":"g","i":219.4,"p":1.31577},{"s":"g","i":221.9,"p":1.31577},{"s":"g","i":223.6,"p":1.31586},{"s":"g","i":226.1,"p":1.31608},{"s":"g","i":228.6,"p":1.31629},{"s":"g","i":231.1,"p":1.3164},{"s":"g","i":233.6,"p":1.3165},{"s":"g","i":236.1,"p":1.31657},{"s":"g","i":238.6,"p":1.31662},{"s":"g","i":241.1,"p":1.31666},{"s":"g","i":243.6,"p":1.3167},{"s":"g","i":246.1,"p":1.31683},{"s":"g","i":247.7,"p":1.31689},{"s":"g","i":249.4,"p":1.3171},{"s":"g","i":252.6,"p":1.3177},{"s":"g","i":256.6,"p":1.31828},{"s":"g","i":260,"p":1.31868},{"s":"g","i":263.6,"p":1.319},{"s":"g","i":266.1,"p":1.31938},{"s":"g","i":268.6,"p":1.31986},{"s":"g","i":271.1,"p":1.3203},{"s":"g","i":273.6,"p":1.32075},{"s":"g","i":276.1,"p":1.3212},{"s":"g","i":278.6,"p":1.32143},{"s":"g","i":281.1,"p":1.32156},{"s":"g","i":283.6,"p":1.32172},{"s":"g","i":286.1,"p":1.32192},{"s":"g","i":288.6,"p":1.32221},{"s":"g","i":291.1,"p":1.32261},{"s":"g","i":293.6,"p":1.32302},{"s":"g","i":296.1,"p":1.32329},{"s":"g","i":299.4,"p":1.32353},{"s":"g","i":301.9,"p":1.32369},{"s":"g","i":304.4,"p":1.3239},{"s":"g","i":306.9,"p":1.32407},{"s":"g","i":309.4,"p":1.32418},{"s":"g","i":311.9,"p":1.32434},{"s":"g","i":314.4,"p":1.32452},{"s":"g","i":316.9,"p":1.32471},{"s":"g","i":319,"p":1.32492},{"s":"g","i":320.2,"p":1.32496},{"s":"g","i":321.9,"p":1.32488},{"s":"g","i":324.4,"p":1.32476},{"s":"g","i":326.9,"p":1.32455},{"s":"g","i":329.4,"p":1.32471},{"s":"g","i":331.9,"p":1.32488},{"s":"g","i":334.4,"p":1.32504},{"s":"g","i":336.9,"p":1.32512},{"s":"g","i":339.4,"p":1.32515},{"s":"g","i":341.9,"p":1.32509},{"s":"g","i":344.4,"p":1.3252},{"s":"g","i":346.9,"p":1.32541},{"s":"g","i":349.4,"p":1.32556},{"s":"g","i":351.9,"p":1.32573},{"s":"g","i":354.4,"p":1.32609},{"s":"g","i":356.9,"p":1.32638},{"s":"g","i":359.4,"p":1.32653},{"s":"g","i":361.9,"p":1.32674},{"s":"g","i":364.4,"p":1.32687},{"s":"g","i":366.9,"p":1.3269},{"s":"g","i":369.4,"p":1.32687},{"s":"g","i":371.9,"p":1.3269},{"s":"g","i":374.4,"p":1.32695},{"s":"g","i":376.9,"p":1.32701},{"s":"g","i":379.4,"p":1.32714},{"s":"g","i":383,"p":1.3272},
{"s":"r","i":-0.6,"p":1.32892},{"s":"r","i":1.9,"p":1.32886},{"s":"r","i":4.4,"p":1.32881},{"s":"r","i":6.9,"p":1.32876},{"s":"r","i":9.4,"p":1.32873},{"s":"r","i":11.9,"p":1.3287},{"s":"r","i":14.4,"p":1.32866},{"s":"r","i":19.4,"p":1.3286},{"s":"r","i":24.4,"p":1.32858},{"s":"r","i":26.9,"p":1.32853},{"s":"r","i":29.4,"p":1.32847},{"s":"r","i":31.9,"p":1.32847},{"s":"r","i":34.4,"p":1.32848},{"s":"r","i":36.9,"p":1.32857},{"s":"r","i":39.4,"p":1.32876},{"s":"r","i":41.9,"p":1.32887},{"s":"r","i":44.4,"p":1.329},{"s":"r","i":46.9,"p":1.32921},{"s":"r","i":49.4,"p":1.3295},{"s":"r","i":51.9,"p":1.32981},{"s":"r","i":54.4,"p":1.32997},{"s":"r","i":56.9,"p":1.33025},{"s":"r","i":59.4,"p":1.33035},{"s":"r","i":61.9,"p":1.33046},{"s":"r","i":64.4,"p":1.33054},{"s":"r","i":66.9,"p":1.3307},{"s":"r","i":69.4,"p":1.3308},{"s":"r","i":71.9,"p":1.3309},{"s":"r","i":74.4,"p":1.33103},{"s":"r","i":76.9,"p":1.33115},{"s":"r","i":79.4,"p":1.33127},{"s":"r","i":81.9,"p":1.33135},{"s":"r","i":84.4,"p":1.33143},{"s":"r","i":86.9,"p":1.33151},{"s":"r","i":89.4,"p":1.33159},{"s":"r","i":91.9,"p":1.33167},{"s":"r","i":94.4,"p":1.3317},{"s":"r","i":96.9,"p":1.33174},{"s":"r","i":99.4,"p":1.33178},{"s":"r","i":101.9,"p":1.33188},{"s":"r","i":104.4,"p":1.33178},{"s":"r","i":106.9,"p":1.33159},{"s":"r","i":109.4,"p":1.33143},{"s":"r","i":111.9,"p":1.33126},{"s":"r","i":114.4,"p":1.3311},{"s":"r","i":116.9,"p":1.33094},{"s":"r","i":119.4,"p":1.33075},{"s":"r","i":121.9,"p":1.33054},{"s":"r","i":124.4,"p":1.33026},{"s":"r","i":126.9,"p":1.33},{"s":"r","i":129.4,"p":1.32994},{"s":"r","i":131.9,"p":1.32981},{"s":"r","i":134.4,"p":1.32965},{"s":"r","i":136.9,"p":1.3294},{"s":"r","i":139.4,"p":1.32916},{"s":"r","i":141.9,"p":1.32892},{"s":"r","i":144.4,"p":1.32859},{"s":"r","i":146.9,"p":1.32827},{"s":"r","i":149.4,"p":1.328},{"s":"r","i":154,"p":1.32735},{"s":"r","i":159,"p":1.32655},{"s":"r","i":164,"p":1.32565},{"s":"r","i":169,"p":1.32479},{"s":"r","i":171.9,"p":1.3243},{"s":"r","i":175.2,"p":1.32366},{"s":"r","i":176.9,"p":1.32325},{"s":"r","i":179.4,"p":1.32293},{"s":"r","i":181.9,"p":1.32244},{"s":"r","i":184.4,"p":1.32196},{"s":"r","i":186.9,"p":1.32155},{"s":"r","i":189.4,"p":1.32115},{"s":"r","i":191.9,"p":1.32075},{"s":"r","i":194.4,"p":1.32042},{"s":"r","i":196.9,"p":1.32002},{"s":"r","i":199.4,"p":1.31971},{"s":"r","i":201.9,"p":1.31929},{"s":"r","i":204.4,"p":1.31896},{"s":"r","i":206.9,"p":1.31877},{"s":"r","i":209.4,"p":1.31856},{"s":"r","i":211.9,"p":1.31835},{"s":"r","i":214.4,"p":1.31815},{"s":"r","i":216.9,"p":1.31796},{"s":"r","i":219.4,"p":1.31775},{"s":"r","i":221.9,"p":1.31767},{"s":"r","i":224.4,"p":1.31767},{"s":"r","i":226.9,"p":1.31757},{"s":"r","i":229.4,"p":1.31747},{"s":"r","i":231.9,"p":1.31734},{"s":"r","i":234.4,"p":1.31721},{"s":"r","i":236.9,"p":1.3171},{"s":"r","i":239.4,"p":1.31699},{"s":"r","i":241.9,"p":1.31694},{"s":"r","i":244.4,"p":1.31691},{"s":"r","i":246.9,"p":1.31686},{"s":"r","i":249.4,"p":1.31686},{"s":"r","i":256,"p":1.3172},{"s":"r","i":263,"p":1.31775},{"s":"r","i":270,"p":1.31835},{"s":"r","i":276,"p":1.31875},{"s":"r","i":282.7,"p":1.31905},{"s":"r","i":285.2,"p":1.31917},{"s":"r","i":287.7,"p":1.3193},{"s":"r","i":290.2,"p":1.31942},{"s":"r","i":292.7,"p":1.31962},{"s":"r","i":295.2,"p":1.31986},{"s":"r","i":297.7,"p":1.3201},{"s":"r","i":299.4,"p":1.3203},{"s":"r","i":305,"p":1.3208},{"s":"r","i":312,"p":1.3215},{"s":"r","i":318,"p":1.32215},{"s":"r","i":324.8,"p":1.32285},{"s":"r","i":326.9,"p":1.32301},{"s":"r","i":329.4,"p":1.32314},{"s":"r","i":331.9,"p":1.32331},{"s":"r","i":334.4,"p":1.32342},{"s":"r","i":336.9,"p":1.32358},{"s":"r","i":339.4,"p":1.32379},{"s":"r","i":341.9,"p":1.32399},{"s":"r","i":344.4,"p":1.32415},{"s":"r","i":346.9,"p":1.32439},{"s":"r","i":349.4,"p":1.32457},{"s":"r","i":351.9,"p":1.32471},{"s":"r","i":354.4,"p":1.32496},{"s":"r","i":356.9,"p":1.32515},{"s":"r","i":359.4,"p":1.32531},{"s":"r","i":361.9,"p":1.32552},{"s":"r","i":364.4,"p":1.32564},{"s":"r","i":366.9,"p":1.32573},{"s":"r","i":369.4,"p":1.32589},{"s":"r","i":371.9,"p":1.32589},{"s":"r","i":374.4,"p":1.32585},{"s":"r","i":376.9,"p":1.32585},{"s":"r","i":379.4,"p":1.32593},{"s":"r","i":380.7,"p":1.32596},{"s":"r","i":383,"p":1.32605}
],
"lv":[{"v":1.33728},{"v":1.33061},{"v":1.32859},{"v":1.32366},{"v":1.3211},{"v":1.31907},{"v":1.31381}],
"tr":[{"i":266.9,"p":1.32054},{"i":384.6,"p":1.3251}]
},
"layer":[
{"data":{"name":"bars"},"mark":{"type":"rule","strokeWidth":1},
 "encoding":{
  "x":{"field":"i","type":"quantitative","scale":{"domain":[-0.625,384.625],"nice":false,"zero":false,"padding":0},"axis":{"orient":"bottom","title":null,"values":[-0.6,15,31,47,63,79,95,111,127,143,159,175,191,207,223,239,255,271,287,303,319,335,351,367,383],"labelExpr":"['29 Aug 2019','29 Aug 22:00','30 Aug 14:00','2 Sep 06:00','2 Sep 22:00','3 Sep 14:00','4 Sep 06:00','4 Sep 22:00','5 Sep 14:00','6 Sep 06:00','8 Sep 22:00','9 Sep 14:00','10 Sep 06:00','10 Sep 22:00','11 Sep 14:00','12 Sep 06:00','12 Sep 22:00','13 Sep 14:00','16 Sep 06:00','16 Sep 22:00','17 Sep 14:00','18 Sep 06:00','18 Sep 22:00','19 Sep 14:00','20 Sep 06:00'][round((datum.value+1)/16)]","labelAlign":"left","labelBaseline":"top","labelPadding":-1,"labelOffset":-1,"tickSize":4,"domainWidth":1,"labelOverlap":false,"labelFlush":false,"labelBound":false,"grid":false}},
  "y":{"field":"l","type":"quantitative","scale":{"domain":[1.31246,1.33935],"nice":false,"zero":false,"padding":0},"axis":{"orient":"right","title":null,"values":[1.3128,1.3144,1.316,1.3176,1.3192,1.3208,1.3224,1.324,1.3256,1.3272,1.3288,1.3304,1.332,1.33355,1.33515,1.33675,1.33835],"format":".5f","tickSize":3,"labelPadding":6,"labelAlign":"left","labelBaseline":"middle","domainWidth":1,"labelOverlap":false,"labelFlush":false,"labelBound":false,"grid":false}},
  "y2":{"field":"h"},
  "color":{"condition":{"test":"datum.o==datum.c","value":"#00ff00"},"value":"#000000"}
 }},
{"data":{"name":"bars"},"mark":{"type":"bar","width":2.4,"strokeWidth":0.6},
 "encoding":{
  "x":{"field":"i","type":"quantitative","scale":{"domain":[-0.625,384.625],"nice":false,"zero":false,"padding":0},"axis":{"orient":"bottom","title":null,"values":[-0.6,15,31,47,63,79,95,111,127,143,159,175,191,207,223,239,255,271,287,303,319,335,351,367,383],"labelExpr":"['29 Aug 2019','29 Aug 22:00','30 Aug 14:00','2 Sep 06:00','2 Sep 22:00','3 Sep 14:00','4 Sep 06:00','4 Sep 22:00','5 Sep 14:00','6 Sep 06:00','8 Sep 22:00','9 Sep 14:00','10 Sep 06:00','10 Sep 22:00','11 Sep 14:00','12 Sep 06:00','12 Sep 22:00','13 Sep 14:00','16 Sep 06:00','16 Sep 22:00','17 Sep 14:00','18 Sep 06:00','18 Sep 22:00','19 Sep 14:00','20 Sep 06:00'][round((datum.value+1)/16)]","labelAlign":"left","labelBaseline":"top","labelPadding":-1,"labelOffset":-1,"tickSize":4,"domainWidth":1,"labelOverlap":false,"labelFlush":false,"labelBound":false,"grid":false}},
  "y":{"field":"o","type":"quantitative","scale":{"domain":[1.31246,1.33935],"nice":false,"zero":false,"padding":0},"axis":{"orient":"right","title":null,"values":[1.3128,1.3144,1.316,1.3176,1.3192,1.3208,1.3224,1.324,1.3256,1.3272,1.3288,1.3304,1.332,1.33355,1.33515,1.33675,1.33835],"format":".5f","tickSize":3,"labelPadding":6,"labelAlign":"left","labelBaseline":"middle","domainWidth":1,"labelOverlap":false,"labelFlush":false,"labelBound":false,"grid":false}},
  "y2":{"field":"c"},
  "fill":{"condition":[{"test":"datum.o==datum.c","value":"#00ff00"},{"test":"datum.c>datum.o","value":"#008000"}],"value":"#dc143c"},
  "stroke":{"condition":{"test":"datum.o==datum.c","value":"#00ff00"},"value":"#000000"}
 }},
{"data":{"name":"ma"},"mark":{"type":"line","strokeWidth":2,"interpolate":"monotone"},
 "encoding":{
  "x":{"field":"i","type":"quantitative","scale":{"domain":[-0.625,384.625],"nice":false,"zero":false,"padding":0},"axis":{"orient":"bottom","title":null,"values":[-0.6,15,31,47,63,79,95,111,127,143,159,175,191,207,223,239,255,271,287,303,319,335,351,367,383],"labelExpr":"['29 Aug 2019','29 Aug 22:00','30 Aug 14:00','2 Sep 06:00','2 Sep 22:00','3 Sep 14:00','4 Sep 06:00','4 Sep 22:00','5 Sep 14:00','6 Sep 06:00','8 Sep 22:00','9 Sep 14:00','10 Sep 06:00','10 Sep 22:00','11 Sep 14:00','12 Sep 06:00','12 Sep 22:00','13 Sep 14:00','16 Sep 06:00','16 Sep 22:00','17 Sep 14:00','18 Sep 06:00','18 Sep 22:00','19 Sep 14:00','20 Sep 06:00'][round((datum.value+1)/16)]","labelAlign":"left","labelBaseline":"top","labelPadding":-1,"labelOffset":-1,"tickSize":4,"domainWidth":1,"labelOverlap":false,"labelFlush":false,"labelBound":false,"grid":false}},
  "y":{"field":"p","type":"quantitative","scale":{"domain":[1.31246,1.33935],"nice":false,"zero":false,"padding":0},"axis":{"orient":"right","title":null,"values":[1.3128,1.3144,1.316,1.3176,1.3192,1.3208,1.3224,1.324,1.3256,1.3272,1.3288,1.3304,1.332,1.33355,1.33515,1.33675,1.33835],"format":".5f","tickSize":3,"labelPadding":6,"labelAlign":"left","labelBaseline":"middle","domainWidth":1,"labelOverlap":false,"labelFlush":false,"labelBound":false,"grid":false}},
  "color":{"field":"s","type":"nominal","scale":{"domain":["g","r"],"range":["#008000","#dc143c"]},"legend":null}
 }},
{"data":{"name":"lv"},"mark":{"type":"rule","strokeWidth":2,"color":"#000000"},
 "encoding":{
  "y":{"field":"v","type":"quantitative","scale":{"domain":[1.31246,1.33935],"nice":false,"zero":false,"padding":0},"axis":{"orient":"right","title":null,"values":[1.3128,1.3144,1.316,1.3176,1.3192,1.3208,1.3224,1.324,1.3256,1.3272,1.3288,1.3304,1.332,1.33355,1.33515,1.33675,1.33835],"format":".5f","tickSize":3,"labelPadding":6,"labelAlign":"left","labelBaseline":"middle","domainWidth":1,"labelOverlap":false,"labelFlush":false,"labelBound":false,"grid":false}}
 }},
{"data":{"name":"tr"},"mark":{"type":"line","strokeWidth":2,"color":"#0000ff"},
 "encoding":{
  "x":{"field":"i","type":"quantitative","scale":{"domain":[-0.625,384.625],"nice":false,"zero":false,"padding":0},"axis":{"orient":"bottom","title":null,"values":[-0.6,15,31,47,63,79,95,111,127,143,159,175,191,207,223,239,255,271,287,303,319,335,351,367,383],"labelExpr":"['29 Aug 2019','29 Aug 22:00','30 Aug 14:00','2 Sep 06:00','2 Sep 22:00','3 Sep 14:00','4 Sep 06:00','4 Sep 22:00','5 Sep 14:00','6 Sep 06:00','8 Sep 22:00','9 Sep 14:00','10 Sep 06:00','10 Sep 22:00','11 Sep 14:00','12 Sep 06:00','12 Sep 22:00','13 Sep 14:00','16 Sep 06:00','16 Sep 22:00','17 Sep 14:00','18 Sep 06:00','18 Sep 22:00','19 Sep 14:00','20 Sep 06:00'][round((datum.value+1)/16)]","labelAlign":"left","labelBaseline":"top","labelPadding":-1,"labelOffset":-1,"tickSize":4,"domainWidth":1,"labelOverlap":false,"labelFlush":false,"labelBound":false,"grid":false}},
  "y":{"field":"p","type":"quantitative","scale":{"domain":[1.31246,1.33935],"nice":false,"zero":false,"padding":0},"axis":{"orient":"right","title":null,"values":[1.3128,1.3144,1.316,1.3176,1.3192,1.3208,1.3224,1.324,1.3256,1.3272,1.3288,1.3304,1.332,1.33355,1.33515,1.33675,1.33835],"format":".5f","tickSize":3,"labelPadding":6,"labelAlign":"left","labelBaseline":"middle","domainWidth":1,"labelOverlap":false,"labelFlush":false,"labelBound":false,"grid":false}}
 }},
{"data":{"name":"lv"},"mark":{"type":"rect","height":12,"color":"#000000"},
 "encoding":{
  "x":{"datum":386.125,"type":"quantitative","scale":{"domain":[-0.625,384.625],"nice":false,"zero":false,"padding":0},"axis":{"orient":"bottom","title":null,"values":[-0.6,15,31,47,63,79,95,111,127,143,159,175,191,207,223,239,255,271,287,303,319,335,351,367,383],"labelExpr":"['29 Aug 2019','29 Aug 22:00','30 Aug 14:00','2 Sep 06:00','2 Sep 22:00','3 Sep 14:00','4 Sep 06:00','4 Sep 22:00','5 Sep 14:00','6 Sep 06:00','8 Sep 22:00','9 Sep 14:00','10 Sep 06:00','10 Sep 22:00','11 Sep 14:00','12 Sep 06:00','12 Sep 22:00','13 Sep 14:00','16 Sep 06:00','16 Sep 22:00','17 Sep 14:00','18 Sep 06:00','18 Sep 22:00','19 Sep 14:00','20 Sep 06:00'][round((datum.value+1)/16)]","labelAlign":"left","labelBaseline":"top","labelPadding":-1,"labelOffset":-1,"tickSize":4,"domainWidth":1,"labelOverlap":false,"labelFlush":false,"labelBound":false,"grid":false}},
  "x2":{"datum":396.125},
  "y":{"field":"v","type":"quantitative","scale":{"domain":[1.31246,1.33935],"nice":false,"zero":false,"padding":0},"axis":{"orient":"right","title":null,"values":[1.3128,1.3144,1.316,1.3176,1.3192,1.3208,1.3224,1.324,1.3256,1.3272,1.3288,1.3304,1.332,1.33355,1.33515,1.33675,1.33835],"format":".5f","tickSize":3,"labelPadding":6,"labelAlign":"left","labelBaseline":"middle","domainWidth":1,"labelOverlap":false,"labelFlush":false,"labelBound":false,"grid":false}}
 }},
{"data":{"name":"lv"},"mark":{"type":"text","align":"left","baseline":"middle","font":"Liberation Sans","fontSize":9.5,"color":"#ffffff"},
 "encoding":{
  "x":{"datum":386.875,"type":"quantitative","scale":{"domain":[-0.625,384.625],"nice":false,"zero":false,"padding":0},"axis":{"orient":"bottom","title":null,"values":[-0.6,15,31,47,63,79,95,111,127,143,159,175,191,207,223,239,255,271,287,303,319,335,351,367,383],"labelExpr":"['29 Aug 2019','29 Aug 22:00','30 Aug 14:00','2 Sep 06:00','2 Sep 22:00','3 Sep 14:00','4 Sep 06:00','4 Sep 22:00','5 Sep 14:00','6 Sep 06:00','8 Sep 22:00','9 Sep 14:00','10 Sep 06:00','10 Sep 22:00','11 Sep 14:00','12 Sep 06:00','12 Sep 22:00','13 Sep 14:00','16 Sep 06:00','16 Sep 22:00','17 Sep 14:00','18 Sep 06:00','18 Sep 22:00','19 Sep 14:00','20 Sep 06:00'][round((datum.value+1)/16)]","labelAlign":"left","labelBaseline":"top","labelPadding":-1,"labelOffset":-1,"tickSize":4,"domainWidth":1,"labelOverlap":false,"labelFlush":false,"labelBound":false,"grid":false}},
  "y":{"field":"v","type":"quantitative","scale":{"domain":[1.31246,1.33935],"nice":false,"zero":false,"padding":0},"axis":{"orient":"right","title":null,"values":[1.3128,1.3144,1.316,1.3176,1.3192,1.3208,1.3224,1.324,1.3256,1.3272,1.3288,1.3304,1.332,1.33355,1.33515,1.33675,1.33835],"format":".5f","tickSize":3,"labelPadding":6,"labelAlign":"left","labelBaseline":"middle","domainWidth":1,"labelOverlap":false,"labelFlush":false,"labelBound":false,"grid":false}},
  "text":{"field":"v","type":"quantitative","format":".5f"}
 }}
]
}
